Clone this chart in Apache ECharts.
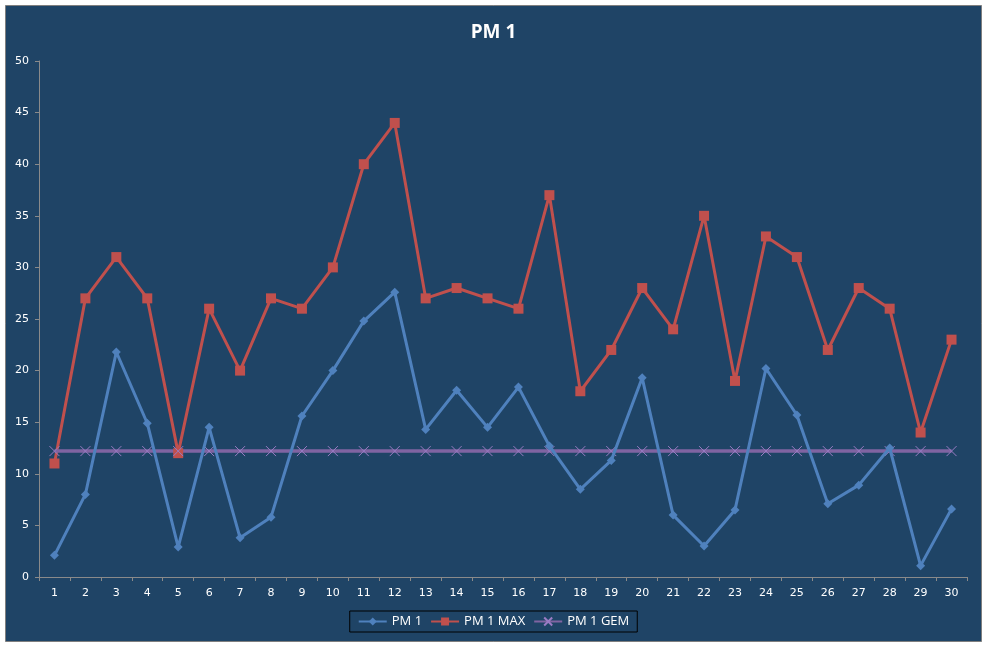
<!DOCTYPE html>
<html>
<head>
<meta charset="utf-8">
<script src="https://cdn.jsdelivr.net/npm/echarts@6/dist/echarts.min.js"></script>
<style>
  html, body { margin: 0; padding: 0; background: #fff; }
  #chart { width: 987px; height: 648px; }
</style>
</head>
<body>
<div id="chart"></div>
<script>
// dagen
const days = ['1','2','3','4','5','6','7','8','9','10','11','12','13','14','15','16','17','18','19','20','21','22','23','24','25','26','27','28','29','30']

// PM 1 meetwaarden
const pm1 = [2.1, 8.0, 21.8, 14.9, 2.9, 14.5, 3.8, 5.8, 15.6, 20.0,
  24.8, 27.6, 14.3, 18.1, 14.5, 18.4, 12.7, 8.5, 11.3, 19.3,
  6.0, 3.0, 6.5, 20.2, 15.7, 7.1, 8.9, 12.5, 1.1, 6.6]

// PM 1 maximum
const pm1Max = [11, 27, 31, 27, 12, 26, 20, 27, 26, 30,
  40, 44, 27, 28, 27, 26, 37, 18, 22, 28,
  24, 35, 19, 33, 31, 22, 28, 26, 14, 23]

// gemiddelde
const pm1Gem = days.map(() => 12.2)

const chart = echarts.init(document.getElementById('chart'))

const axisText = { color: '#ffffff', fontFamily: 'DejaVu Sans', fontSize: 11 }

chart.setOption({
  backgroundColor: '#ffffff',
  animation: false,
  graphic: [
    {
      type: 'rect',
      z: -10,
      shape: { x: 5.5, y: 5.5, width: 976, height: 636 },
      style: { fill: '#1f4466', stroke: '#7f7f7f', lineWidth: 1 }
    }
  ],
  title: {
    text: 'PM 1',
    left: 'center',
    top: 18,
    textStyle: { color: '#ffffff', fontFamily: 'Open Sans', fontWeight: 'bold', fontSize: 19 }
  },
  legend: {
    left: 'center',
    top: 611,
    padding: [4, 8],
    borderColor: '#000000',
    borderWidth: 1,
    itemWidth: 28,
    itemHeight: 10,
    itemGap: 8,
    textStyle: { color: '#ffffff', fontFamily: 'Open Sans', fontSize: 13 },
    data: ['PM 1', 'PM 1 MAX', 'PM 1 GEM']
  },
  grid: { left: 39, right: 20, top: 61, bottom: 71 },
  xAxis: {
    type: 'category',
    data: days,
    boundaryGap: true,
    axisLine: { lineStyle: { color: '#8a8a8a', width: 1 } },
    axisTick: { show: true, length: 4, lineStyle: { color: '#8a8a8a' } },
    axisLabel: Object.assign({ margin: 11, interval: 0 }, axisText),
    splitLine: { show: false }
  },
  yAxis: {
    type: 'value',
    min: 0,
    max: 50,
    interval: 5,
    axisLine: { show: true, lineStyle: { color: '#8a8a8a', width: 1 } },
    axisTick: { show: true, length: 4, lineStyle: { color: '#8a8a8a' } },
    axisLabel: Object.assign({ margin: 10 }, axisText),
    splitLine: { show: false }
  },
  series: [
    {
      name: 'PM 1',
      type: 'line',
      data: pm1,
      color: '#4f81bd',
      symbol: 'diamond',
      symbolSize: 9,
      showAllSymbol: true,
      lineStyle: { width: 3, color: '#4f81bd' },
      itemStyle: { color: '#4f81bd' },
      z: 3
    },
    {
      name: 'PM 1 MAX',
      type: 'line',
      data: pm1Max,
      color: '#c0504d',
      symbol: 'rect',
      symbolSize: 10,
      showAllSymbol: true,
      lineStyle: { width: 3, color: '#c0504d' },
      itemStyle: { color: '#c0504d' },
      z: 2
    },
    {
      name: 'PM 1 GEM',
      type: 'line',
      data: pm1Gem,
      color: '#8064a2',
      symbol: 'path://M0,0L10,10M10,0L0,10',
      symbolSize: 10,
      showAllSymbol: true,
      lineStyle: { width: 3.5, color: '#8064a2' },
      itemStyle: { color: '#8064a2', borderColor: '#9a7cc4', borderWidth: 1 },
      z: 2
    }
  ]
})
</script>
</body>
</html>
